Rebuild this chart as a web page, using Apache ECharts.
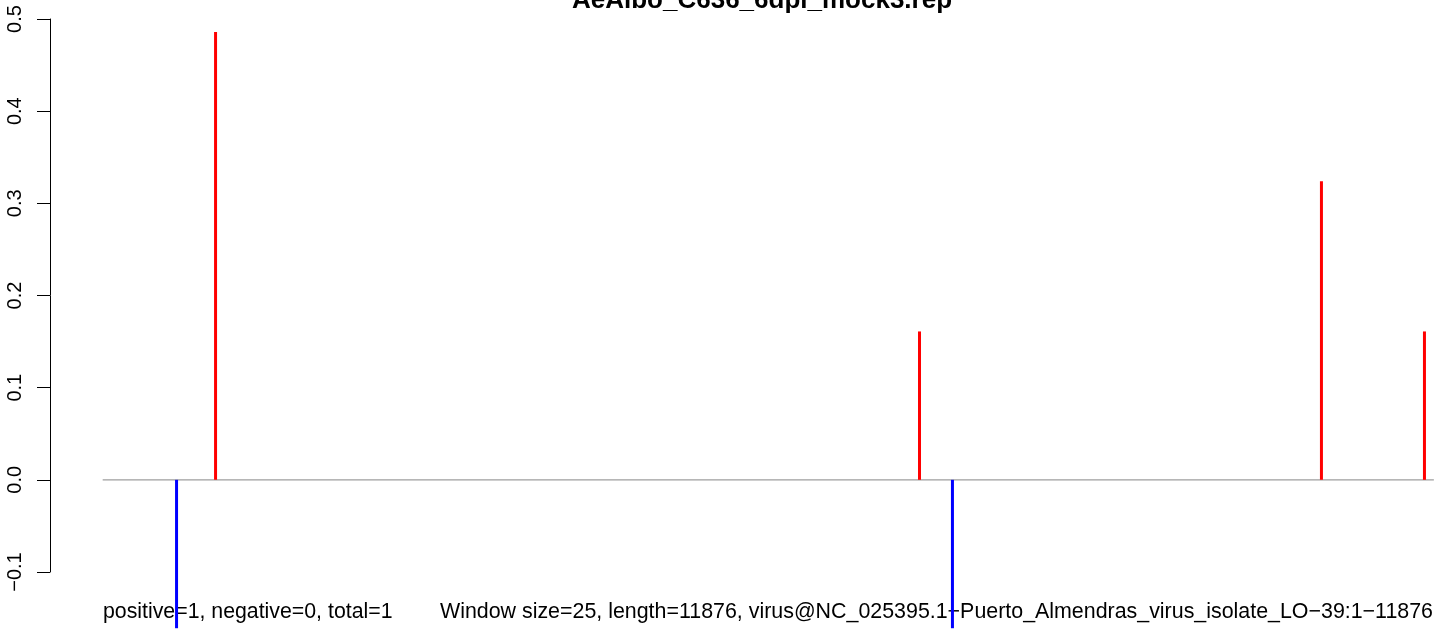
<!DOCTYPE html>
<html>
<head>
<meta charset="utf-8">
<script src="https://cdn.jsdelivr.net/npm/echarts@6/dist/echarts.min.js"></script>
<style>
html,body{margin:0;padding:0;background:#fff;}
#c{width:1441px;height:634px;}
</style>
</head>
<body>
<div id="c"></div>
<script>
// Data
const titleText = "AeAlbo_C636_6dpi_mock3.rep";
const genomeLength = 11876;
const positions = [659, 1007, 7287, 7581, 10873, 11792];
const values = [-0.161, 0.486, 0.161, -0.161, 0.324, 0.161];
const yMin = -0.1, yMax = 0.5, yStep = 0.1;
const leftNote = "positive=1, negative=0, total=1";
const rightNote = "Window size=25, length=11876, virus@NC_025395.1\u2212Puerto_Almendras_virus_isolate_LO\u221239:1\u221211876";

const chart = echarts.init(document.getElementById('c'), null, {renderer: 'canvas'});
const barData = positions.map((p, i) => ({
  value: [p, values[i]],
  itemStyle: {color: values[i] >= 0 ? '#FF0000' : '#0000FF'}
}));

const font = 'Liberation Sans, Arial, Helvetica, sans-serif';
chart.setOption({
  animation: false,
  backgroundColor: '#ffffff',
  grid: {left: 50, top: 19, width: 1437, height: 553, containLabel: false, outerBoundsMode: 'none'},
  xAxis: {type: 'value', min: -470, max: 12350, show: false},
  yAxis: {
    type: 'value', min: yMin, max: yMax, interval: yStep,
    axisLine: {show: true, onZero: false, lineStyle: {color: '#000', width: 1}},
    axisTick: {show: true, length: 13, lineStyle: {color: '#000', width: 1}},
    splitLine: {show: false},
    axisLabel: {
      rotate: 90, margin: 25, color: '#000', fontSize: 20, fontFamily: font,
      formatter: v => (v < 0 ? '\u2212' : '') + Math.abs(v).toFixed(1)
    }
  },
  graphic: [
    {type: 'text', style: {text: titleText, x: 762, y: 1, textAlign: 'center', textVerticalAlign: 'middle', font: 'bold 26px ' + font, fill: '#000'}},
    {type: 'text', style: {text: leftNote, x: 103, y: 612, textAlign: 'left', textVerticalAlign: 'middle', font: '21.3px ' + font, fill: '#000'}, z: 0},
    {type: 'text', style: {text: rightNote, x: 1433, y: 612, textAlign: 'right', textVerticalAlign: 'middle', font: '21.4px ' + font, fill: '#000'}, z: 0}
  ],
  series: [
    {
      type: 'line', data: [[0, 0], [genomeLength, 0]], symbol: 'none', silent: true,
      lineStyle: {color: '#9e9e9e', width: 1.3}, z: 1
    },
    {
      type: 'bar', data: barData, barWidth: 3, clip: false, silent: true, z: 5
    }
  ]
});
</script>
</body>
</html>
